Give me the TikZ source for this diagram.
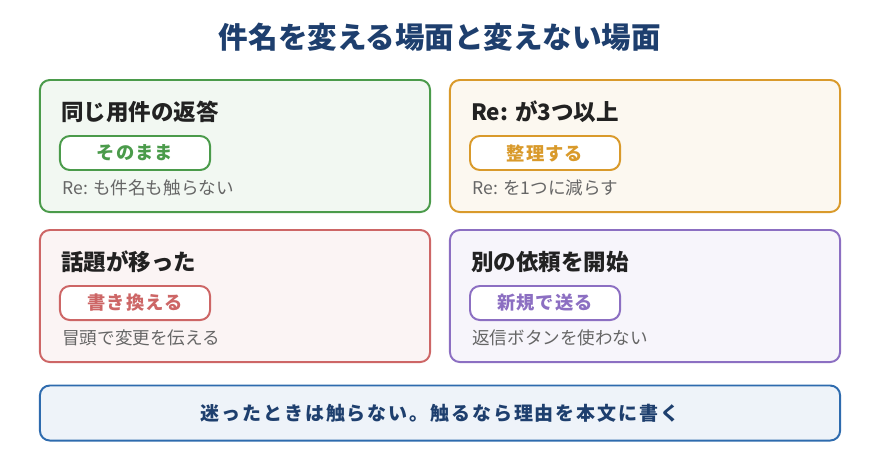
\documentclass[tikz,border=0pt]{standalone}
\usepackage{fontspec}
\setmainfont{Noto Sans CJK JP}
\usepackage{xcolor}
\usepackage{tikz}
\definecolor{titlenavy}{HTML}{1E3F6E}
\definecolor{headink}{HTML}{222222}
\definecolor{notegray}{HTML}{666666}
\definecolor{keepgreen}{HTML}{4B9B4B}
\definecolor{tidyamber}{HTML}{D99A2B}
\definecolor{swapred}{HTML}{CD6666}
\definecolor{newpurple}{HTML}{8C6FC2}
\definecolor{ruleblue}{HTML}{2E6BAE}

\begin{document}
\begin{tikzpicture}[
  x=0.025cm, y=-0.025cm,
  card/.style={draw=#1, fill=#1!7, line width=1.4pt, rounded corners=7pt,
               minimum width=9.75cm, minimum height=3.3cm, inner sep=0pt},
  tag/.style={draw=#1, fill=white, text=#1, line width=1.4pt, rounded corners=7pt,
              minimum width=3.75cm, minimum height=0.85cm, inner sep=0pt,
              font=\bfseries\fontsize{13}{15}\selectfont\addfontfeature{LetterSpace=6}},
  head/.style={anchor=west, inner sep=0pt, text=headink,
               font=\bfseries\fontsize{16}{19}\selectfont},
  note/.style={anchor=west, inner sep=0pt, text=notegray,
               font=\fontsize{12.5}{15}\selectfont}
]
\useasboundingbox (0,0) rectangle (880,470);

\node[text=titlenavy, font=\bfseries\fontsize{21}{25}\selectfont] (title) at (440,37)
  {件名を変える場面と変えない場面};

%% ---- top row --------------------------------------------------------------
\node[card=keepgreen] (same) at (235,146) {};
\node[head] (samehead) at (61,112) {同じ用件の返答};
\node[tag=keepgreen] (sametag) at (135,153) {そのまま};
\node[note] (samenote) at (62,188) {Re: も件名も触らない};

\node[card=tidyamber] (chain) at (645,146) {};
\node[head] (chainhead) at (471,112) {Re: が3つ以上};
\node[tag=tidyamber] (chaintag) at (545,153) {整理する};
\node[note] (chainnote) at (472,188) {Re: を1つに減らす};

%% ---- bottom row -----------------------------------------------------------
\node[card=swapred] (topic) at (235,296) {};
\node[head] (topichead) at (61,262) {話題が移った};
\node[tag=swapred] (topictag) at (135,303) {書き換える};
\node[note] (topicnote) at (62,338) {冒頭で変更を伝える};

\node[card=newpurple] (fresh) at (645,296) {};
\node[head] (freshhead) at (471,262) {別の依頼を開始};
\node[tag=newpurple] (freshtag) at (545,303) {新規で送る};
\node[note] (freshnote) at (472,338) {返信ボタンを使わない};

%% ---- rule of thumb --------------------------------------------------------
\node[draw=ruleblue, fill=ruleblue!8, line width=1.4pt, rounded corners=7pt,
      minimum width=20cm, minimum height=1.375cm, text=titlenavy,
      font=\bfseries\fontsize{13.5}{16}\selectfont\addfontfeature{LetterSpace=10}]
  (rule) at (440,413)
  {迷ったときは触らない。触るなら理由を本文に書く};

\end{tikzpicture}
\end{document}
